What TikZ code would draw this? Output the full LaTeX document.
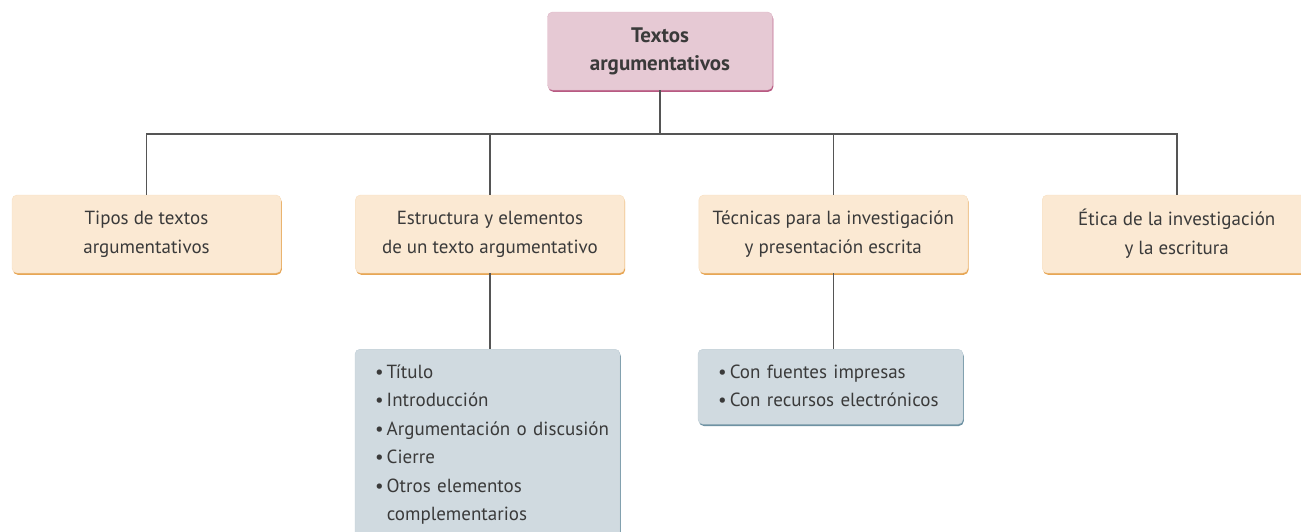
\documentclass[tikz,border=0pt]{standalone}
\usepackage{fontspec}
\setmainfont{PT Sans}
\usetikzlibrary{positioning,shadows}
\definecolor{rosa}{HTML}{E6C9D4}
\definecolor{rosaborde}{HTML}{B85A82}
\definecolor{crema}{HTML}{FBE9D3}
\definecolor{cremaborde}{HTML}{E7A655}
\definecolor{azulgris}{HTML}{D0DAE0}
\definecolor{azulborde}{HTML}{6E92A3}
\definecolor{linea}{HTML}{555555}
\definecolor{texto}{HTML}{3A3A3A}

\begin{document}
\begin{tikzpicture}[
  x=1pt, y=1pt, font=\fontsize{19}{29}\selectfont, text=texto,
  caja/.style={rounded corners=5pt,minimum width=269pt,minimum height=78pt,align=center,inner sep=0pt},
  raiz/.style={caja,fill=rosa,draw=rosa!85!rosaborde,minimum width=225pt,
    font=\fontsize{21}{28}\selectfont\bfseries,
    drop shadow={shadow xshift=0.8pt,shadow yshift=-1.8pt,fill=rosaborde,opacity=1}},
  tema/.style={caja,fill=crema,draw=crema!85!cremaborde,
    drop shadow={shadow xshift=0.8pt,shadow yshift=-1.8pt,fill=cremaborde,opacity=1}},
  lista/.style={caja,fill=azulgris,draw=azulgris!85!azulborde,minimum height=0pt,minimum width=265pt,
    align=left,anchor=north,inner xsep=20pt,inner ysep=9pt,text width=225pt,
    font=\fontsize{19}{28.5}\selectfont,
    drop shadow={shadow xshift=0.8pt,shadow yshift=-1.8pt,fill=azulborde,opacity=1}},
  conector/.style={draw=linea,line width=1.6pt}]
  \useasboundingbox (0,0) rectangle (1301,-531);
  \node[raiz] (raiz) at (660,-51) {Textos\\argumentativos};
  \node[tema] (tipos) at (146.5,-234) {Tipos de textos\\argumentativos};
  \node[tema,right=74pt of tipos] (estructura) {Estructura y elementos\\de un texto argumentativo};
  \node[tema,right=74pt of estructura] (tecnicas) {Técnicas para la investigación\\y presentación escrita};
  \node[tema,right=74pt of tecnicas] (etica) {Ética de la investigación\\y la escritura};
  \node[lista] (partes) at (487.5,-349)
    {\begin{tabular}{@{}l@{\,}l@{}}
      \textbullet & Título\\
      \textbullet & Introducción\\
      \textbullet & Argumentación o discusión\\
      \textbullet & Cierre\\
      \textbullet & Otros elementos\\
                  & complementarios
    \end{tabular}};
  \node[lista] (fuentes) at (830.5,-349)
    {\begin{tabular}{@{}l@{\,}l@{}}
      \textbullet & Con fuentes impresas\\
      \textbullet & Con recursos electrónicos
    \end{tabular}};
  % ramas del tema central
  \draw[conector] (raiz.south) -- ++(0,-44) coordinate (bus);
  \foreach \n in {tipos,estructura,tecnicas,etica}
    \draw[conector] (bus) -| (\n.north);
  \draw[conector] (estructura.south) -- (estructura.south |- partes.north);
  \draw[conector] (tecnicas.south) -- (tecnicas.south |- fuentes.north);
\end{tikzpicture}
\end{document}
